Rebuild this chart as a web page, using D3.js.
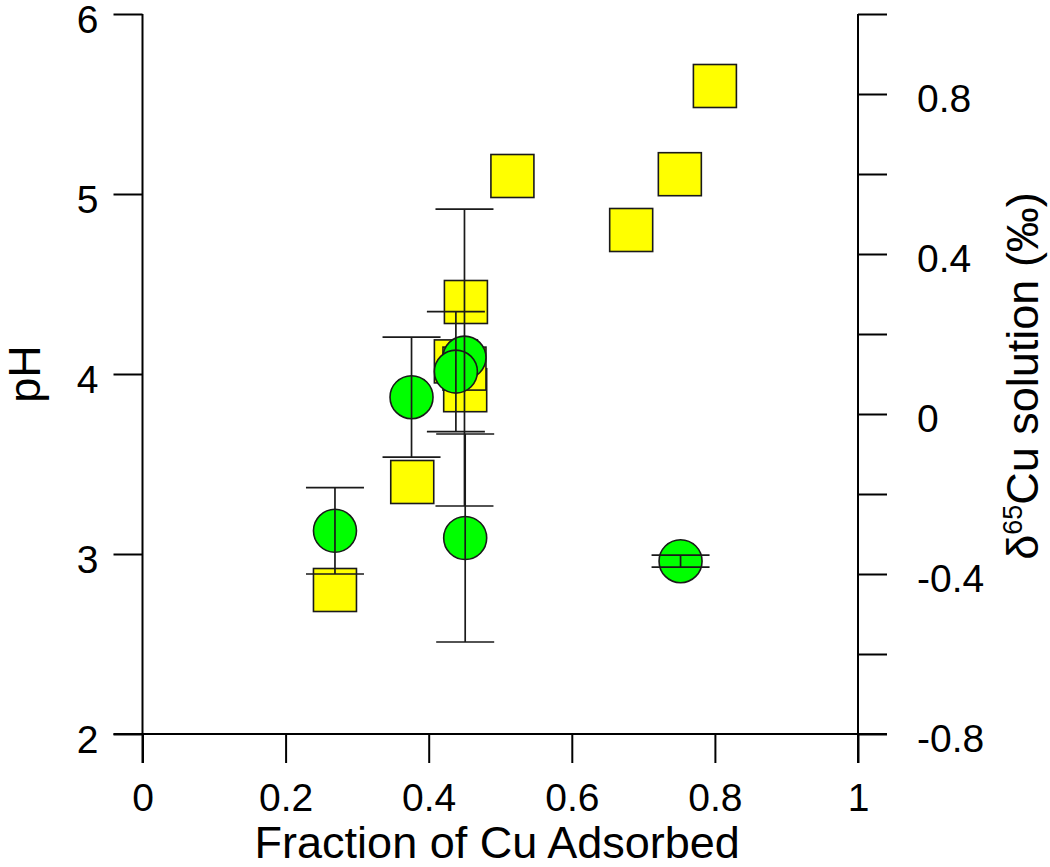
<!DOCTYPE html>
<html>
<head>
<meta charset="utf-8">
<script src="https://cdn.jsdelivr.net/npm/d3@7"></script>
<style>
  html, body { margin: 0; padding: 0; background: #ffffff; }
  svg { display: block; }
  text { font-family: "Liberation Sans", Arial, Helvetica, sans-serif; fill: #000; }
</style>
</head>
<body>
<div id="chart"></div>
<script>
// ---- data ----
// yellow squares: pH vs fraction of Cu adsorbed (left axis)
const squareFraction = [0.269, 0.377, 0.451, 0.438, 0.450, 0.452, 0.517, 0.683, 0.751, 0.800];
const squarePH       = [2.80,  3.40,  3.91,  4.07,  4.03,  4.40,  5.10,  4.80,  5.11,  5.60];

// green circles: delta65Cu of solution (right axis) with error bars
const circleFraction = [0.269,  0.376, 0.450, 0.438, 0.451,  0.752];
const circleDelta    = [-0.292, 0.042, 0.141, 0.106, -0.310, -0.368];
const circleError    = [0.108,  0.150, 0.371, 0.150, 0.260,  0.015];

// ticks
const xTickValues  = [0, 0.2, 0.4, 0.6, 0.8, 1];
const xTickLabels  = ["0", "0.2", "0.4", "0.6", "0.8", "1"];
const pHTickValues = [2, 3, 4, 5, 6];
const pHTickLabels = ["2", "3", "4", "5", "6"];
const deltaTickValues = [-0.8, -0.6, -0.4, -0.2, 0, 0.2, 0.4, 0.6, 0.8, 1.0];
const deltaTickLabels = ["-0.8", "", "-0.4", "", "0", "", "0.4", "", "0.8", ""];

// ---- layout ----
const W = 1050, H = 867;
const plotL = 142.5, plotR = 858, plotT = 14, plotB = 734;
const tickLen = 29;
const fontTick = 39, fontTitle = 45;

const svg = d3.select("#chart").append("svg")
  .attr("width", W).attr("height", H)
  .attr("viewBox", `0 0 ${W} ${H}`);

const x = d3.scaleLinear().domain([0, 1]).range([plotL, plotR]);
const yPH = d3.scaleLinear().domain([2, 6]).range([plotB, plotT]);
const yD = d3.scaleLinear().domain([-0.8, 1.0]).range([plotB, plotT]);

// ---- axes ----
function styleAxis(g) {
  g.select(".domain").remove();
  g.selectAll(".tick line").attr("stroke", "#000").attr("stroke-width", 2);
  g.selectAll(".tick text").attr("font-size", fontTick).attr("fill", "#000")
    .style("font-family", '"Liberation Sans", Arial, Helvetica, sans-serif');
}

const gx = svg.append("g").attr("transform", `translate(0,${plotB})`)
  .call(d3.axisBottom(x).tickValues(xTickValues)
    .tickFormat((d, i) => xTickLabels[i]).tickSize(tickLen).tickPadding(20));
styleAxis(gx);

const gl = svg.append("g").attr("transform", `translate(${plotL},0)`)
  .call(d3.axisLeft(yPH).tickValues(pHTickValues)
    .tickFormat((d, i) => pHTickLabels[i]).tickSize(tickLen).tickPadding(15));
styleAxis(gl);
gl.selectAll(".tick text").attr("dy", "0.47em");

const gr = svg.append("g").attr("transform", `translate(${plotR},0)`)
  .call(d3.axisRight(yD).tickValues(deltaTickValues)
    .tickFormat((d, i) => deltaTickLabels[i]).tickSize(tickLen).tickPadding(30));
styleAxis(gr);
gr.selectAll(".tick text").attr("dy", "0.45em");

// axis lines (crossing style, extended by the tick length at the bottom corners)
const axisLines = svg.append("g").attr("stroke", "#000").attr("stroke-width", 2).attr("fill", "none");
axisLines.append("line")
  .attr("x1", x(0) - tickLen).attr("x2", x(1) + tickLen)
  .attr("y1", yPH(2)).attr("y2", yPH(2));
axisLines.append("line")
  .attr("x1", x(0)).attr("x2", x(0))
  .attr("y1", yPH(6)).attr("y2", yPH(2) + tickLen);
axisLines.append("line")
  .attr("x1", x(1)).attr("x2", x(1))
  .attr("y1", yD(1.0)).attr("y2", yD(-0.8) + tickLen);

// ---- axis titles ----
svg.append("text")
  .attr("x", (x(0) + x(1)) / 2 - 3).attr("y", 858)
  .attr("text-anchor", "middle").attr("font-size", fontTitle)
  .text("Fraction of Cu Adsorbed");

svg.append("text")
  .attr("transform", `translate(40,${(yPH(2) + yPH(6)) / 2}) rotate(-90)`)
  .attr("text-anchor", "middle").attr("font-size", fontTitle)
  .text("pH");

const rt = svg.append("text")
  .attr("transform", `translate(1038,${(yD(-0.8) + yD(1.0)) / 2 + 2}) rotate(-90)`)
  .attr("text-anchor", "middle").attr("font-size", fontTitle);
rt.append("tspan").text("δ");
rt.append("tspan").attr("font-size", 27).attr("dy", -16).text("65");
rt.append("tspan").attr("dy", 16).text("Cu solution (‰)");

// ---- marks ----
const side = 43, rad = 21.5, capHalf = 29;

svg.append("g").selectAll("rect")
  .data(squareFraction.map((f, i) => ({ f, p: squarePH[i] })))
  .join("rect")
  .attr("x", d => x(d.f) - side / 2)
  .attr("y", d => yPH(d.p) - side / 2)
  .attr("width", side).attr("height", side)
  .attr("fill", "#ffff00").attr("stroke", "#1a1a1a").attr("stroke-width", 1.6);

const circ = circleFraction.map((f, i) => ({ f, d: circleDelta[i], e: circleError[i] }));

svg.append("g").selectAll("circle")
  .data(circ).join("circle")
  .attr("cx", d => x(d.f)).attr("cy", d => yD(d.d)).attr("r", rad)
  .attr("fill", "#00ff00").attr("stroke", "#1a1a1a").attr("stroke-width", 1.6);

const eb = svg.append("g").attr("stroke", "#1a1a1a").attr("stroke-width", 1.7);
circ.forEach(d => {
  eb.append("line")
    .attr("x1", x(d.f)).attr("x2", x(d.f))
    .attr("y1", yD(d.d + d.e)).attr("y2", yD(d.d - d.e));
  [d.d + d.e, d.d - d.e].forEach(v => {
    eb.append("line")
      .attr("x1", x(d.f) - capHalf).attr("x2", x(d.f) + capHalf)
      .attr("y1", yD(v)).attr("y2", yD(v));
  });
});
</script>
</body>
</html>
